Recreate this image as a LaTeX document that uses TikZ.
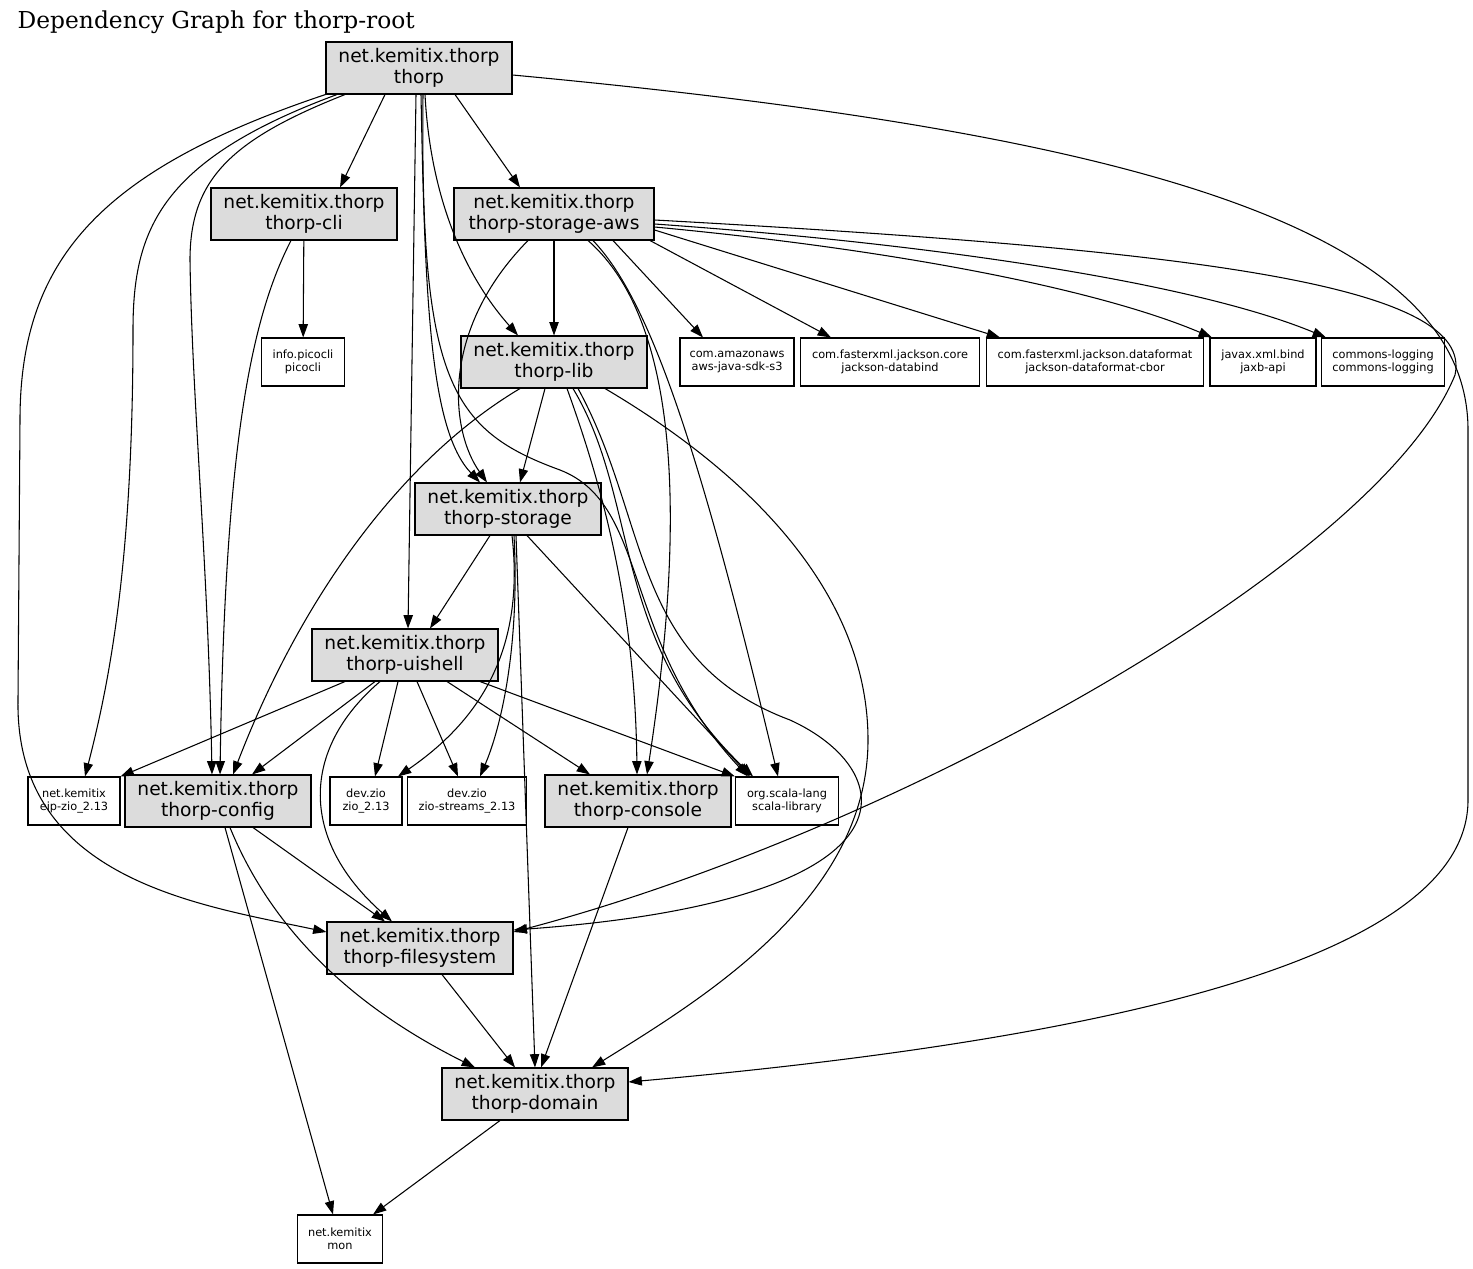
\documentclass[tikz,border=0pt]{standalone}
\usepackage{fontspec}
\setmainfont{DejaVu Serif}
\newfontfamily\depsans{DejaVu Sans}
\usetikzlibrary{arrows.meta}

\definecolor{modgray}{HTML}{DCDCDC}
\tikzset{
  module/.style={draw, fill=modgray, line width=0.8pt, inner sep=0pt, align=center,
    minimum width=139.5pt, minimum height=39pt, font=\depsans\fontsize{14}{16}\selectfont},
  extlib/.style={draw, fill=white, line width=0.8pt, inner sep=0pt, align=center,
    minimum height=36pt, font=\depsans\fontsize{8.5}{9.5}\selectfont},
  dep/.style={line width=0.8pt, -{Triangle[length=10pt,width=7pt]}},
}

\begin{document}
\begin{tikzpicture}[x=0.75pt, y=-0.75pt]
    \useasboundingbox (0,0) rectangle (1473,1269);
    \node[anchor=base west, font=\fontsize{17.5}{20}\selectfont] (title) at (13,29) {Dependency Graph for thorp-root};

    % project modules
    \node[module] (thorp) at (419,68) {net.kemitix.thorp\\thorp};
    \node[module] (cli) at (304,214) {net.kemitix.thorp\\thorp-cli};
    \node[module, minimum width=150pt] (aws) at (554,214) {net.kemitix.thorp\\thorp-storage-aws};
    \node[module] (lib) at (554,362) {net.kemitix.thorp\\thorp-lib};
    \node[module] (storage) at (508,509) {net.kemitix.thorp\\thorp-storage};
    \node[module] (uishell) at (405,655) {net.kemitix.thorp\\thorp-uishell};
    \node[module] (config) at (218,801) {net.kemitix.thorp\\thorp-config};
    \node[module] (console) at (638,801) {net.kemitix.thorp\\thorp-console};
    \node[module] (filesystem) at (420,948) {net.kemitix.thorp\\thorp-filesystem};
    \node[module] (domain) at (535,1094) {net.kemitix.thorp\\thorp-domain};

    % external libraries
    \node[extlib, minimum width=62.25pt] (picocli) at (303,362) {info.picocli\\picocli};
    \node[extlib, minimum width=85.5pt] (amazon) at (737,362) {com.amazonaws\\aws-java-sdk-s3};
    \node[extlib, minimum width=134.25pt] (jcore) at (890,362) {com.fasterxml.jackson.core\\jackson-databind};
    \node[extlib, minimum width=162.75pt] (jcbor) at (1095,362) {com.fasterxml.jackson.dataformat\\jackson-dataformat-cbor};
    \node[extlib, minimum width=79.5pt] (jaxb) at (1263,362) {javax.xml.bind\\jaxb-api};
    \node[extlib, minimum width=92.25pt] (clog) at (1383,362) {commons-logging\\commons-logging};
    \node[extlib, minimum width=69pt] (eipzio) at (74,801) {net.kemitix\\eip-zio\_2.13};
    \node[extlib, minimum width=54pt] (zio) at (366,801) {dev.zio\\zio\_2.13};
    \node[extlib, minimum width=89.25pt] (ziostreams) at (467,801) {dev.zio\\zio-streams\_2.13};
    \node[extlib, minimum width=77.25pt] (scala) at (787,801) {org.scala-lang\\scala-library};
    \node[extlib, minimum width=63.75pt] (mon) at (340,1239) {net.kemitix\\mon};

    % thorp
    \draw[dep] (thorp.south -| 385,0) -- (cli.north -| 340,0);
    \draw[dep] (thorp.south -| 455,0) -- (aws.north -| 520,0);
    \draw[dep] (thorp.south -| 425,0) .. controls (430,190) and (460,270) .. (lib.north -| 518,0);
    \draw[dep] (thorp.south -| 421,0) .. controls (425,300) and (430,430) .. (storage.north -| 480,0);
    \draw[dep] (thorp.south -| 416,0) -- (uishell.north -| 408,0);
    \draw[dep] (thorp.south -| 423,0) .. controls (420,380) and (450,430) .. (560,470)
        .. controls (650,505) and (620,640) .. (scala.north -| 748,0);
    \draw[dep] (thorp.south -| 345,0) .. controls (230,140) and (190,180) .. (190,260)
        .. controls (192,400) and (208,560) .. (config.north -| 212,0);
    \draw[dep] (thorp.south -| 337,0) .. controls (160,160) and (133,230) .. (133,330)
        .. controls (133,560) and (110,680) .. (eipzio.north -| 85,0);
    \draw[dep] (thorp.south west) .. controls (100,170) and (20,260) .. (20,420) -- (18,700)
        .. controls (15,880) and (200,905) .. (filesystem.west |- 0,932);
    \draw[dep] (thorp.east |- 0,75) .. controls (1100,130) and (1468,220) .. (1468,430) -- (1468,800)
        .. controls (1468,960) and (1100,1040) .. (domain.east |- 0,1082);

    % thorp-cli
    \draw[dep] (cli) -- (picocli);
    \draw[dep] (cli.south -| 291,0) .. controls (250,320) and (225,450) .. (config.north -| 220,0);

    % thorp-storage-aws
    \draw[dep] (aws) -- (lib);
    \draw[dep] (aws.south -| 528,0) .. controls (440,330) and (450,430) .. (storage.north -| 487,0);
    \draw[dep] (aws.south -| 613,0) -- (amazon.north -| 703,0);
    \draw[dep] (aws.south -| 650,0) -- (jcore.north -| 831,0);
    \draw[dep] (aws.east |- 0,230) -- (jcbor.north -| 1000,0);
    \draw[dep] (aws.east |- 0,227) .. controls (900,250) and (1100,290) .. (jaxb.north -| 1212,0);
    \draw[dep] (aws.east |- 0,224) .. controls (950,245) and (1200,285) .. (clog.north -| 1326,0);
    \draw[dep] (aws.east |- 0,220) .. controls (1200,250) and (1475,285) .. (1455,375)
        .. controls (1380,560) and (900,830) .. (filesystem.east |- 0,932);
    \draw[dep] (aws.south -| 588,0) .. controls (690,330) and (680,560) .. (console.north -| 647,0);
    \draw[dep] (aws.south -| 593,0) .. controls (650,300) and (700,450) .. (scala.north -| 778,0);

    % thorp-lib
    \draw[dep] (lib.south -| 545,0) -- (storage.north -| 520,0);
    \draw[dep] (lib.south -| 520,0) .. controls (400,460) and (300,600) .. (config.north -| 233,0);
    \draw[dep] (lib.south -| 567,0) .. controls (600,480) and (635,600) .. (console.north -| 637,0);
    \draw[dep] (lib.south -| 573,0) .. controls (640,500) and (610,640) .. (scala.north -| 753,0);
    \draw[dep] (lib.south -| 578,0) .. controls (650,520) and (630,660) .. (790,720)
        .. controls (900,770) and (930,900) .. (filesystem.east |- 0,930);
    \draw[dep] (lib.south -| 605,0) .. controls (760,480) and (868,600) .. (868,740)
        .. controls (868,900) and (700,1000) .. (domain.north -| 592,0);

    % thorp-storage
    \draw[dep] (storage.south -| 490,0) -- (uishell.north -| 430,0);
    \draw[dep] (storage.south -| 512,0) .. controls (525,650) and (480,720) .. (zio.north -| 398,0);
    \draw[dep] (storage.south -| 514,0) .. controls (520,650) and (500,730) .. (ziostreams.north -| 480,0);
    \draw[dep] (storage.south -| 516,0) -- (domain.north -| 535,0);
    \draw[dep] (storage.south -| 527,0) -- (scala.north -| 750,0);

    % thorp-uishell
    \draw[dep] (uishell.south -| 345,0) -- (eipzio.north east);
    \draw[dep] (uishell.south -| 375,0) -- (config.north -| 252,0);
    \draw[dep] (uishell.south -| 398,0) -- (zio.north -| 375,0);
    \draw[dep] (uishell.south -| 417,0) -- (ziostreams.north -| 458,0);
    \draw[dep] (uishell.south -| 447,0) -- (console.north -| 590,0);
    \draw[dep] (uishell.south -| 480,0) -- (scala.north west);
    \draw[dep] (uishell.south -| 380,0) .. controls (300,750) and (300,840) .. (filesystem.north -| 392,0);

    % thorp-config and below
    \draw[dep] (config.south -| 253,0) -- (filesystem.north -| 385,0);
    \draw[dep] (config.south -| 230,0) .. controls (280,950) and (380,1020) .. (domain.north -| 475,0);
    \draw[dep] (config.south -| 225,0) -- (mon.north -| 333,0);
    \draw[dep] (console.south -| 628,0) -- (domain.north -| 541,0);
    \draw[dep] (filesystem.south -| 442,0) -- (domain.north -| 515,0);
    \draw[dep] (domain.south -| 500,0) -- (mon.north -| 373,0);
\end{tikzpicture}
\end{document}
